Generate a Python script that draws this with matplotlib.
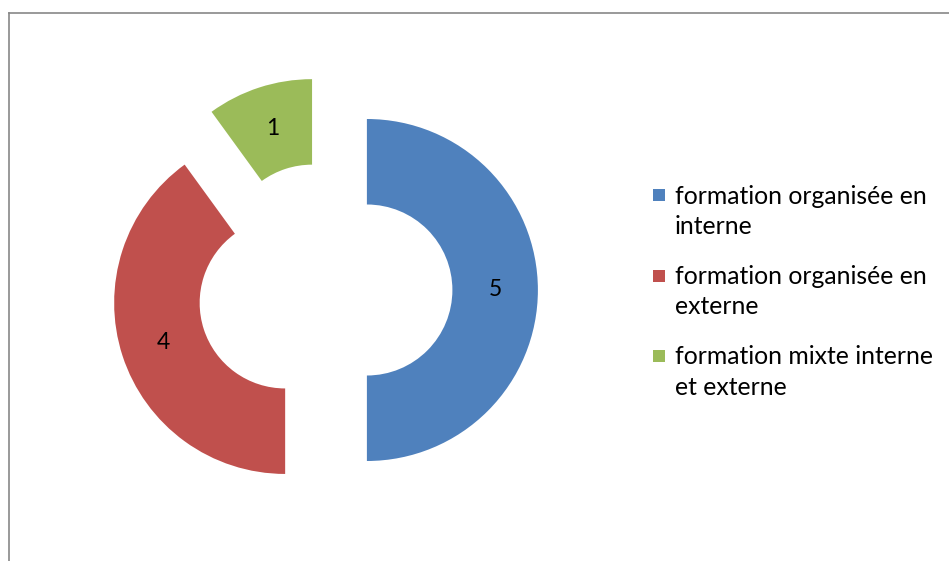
import matplotlib
matplotlib.use("Agg")
import matplotlib.pyplot as plt
from matplotlib.lines import Line2D
from matplotlib.patches import Rectangle

# Training organisation breakdown
labels = ["formation organisée en\ninterne",
          "formation organisée en\nexterne",
          "formation mixte interne\net externe"]
values = [5, 4, 1]
colors = ["#4F81BD", "#C0504D", "#9BBB59"]

plt.rcParams["font.family"] = ["Lato", "DejaVu Sans"]

W, H = 949, 561
fig = plt.figure(figsize=(W / 100, H / 100), dpi=100)
ax = fig.add_axes([0, 0, 1, 1])

total = sum(values)
ax.pie(values, colors=colors, startangle=90, counterclock=False,
       explode=[0.245] * len(values), radius=1.0,
       wedgeprops=dict(width=0.5, linewidth=0),
       autopct=lambda p: f"{round(p * total / 100)}", pctdistance=0.75,
       textprops=dict(fontsize=16.5, color="black"))

# 1 data unit = 171 px, donut centre at (325, 290) px
scale = 171.0
cx, cy = 325, 290
ax.set_xlim(-cx / scale, (W - cx) / scale)
ax.set_ylim(-(H - cy) / scale, cy / scale)
ax.set_aspect("auto")
ax.axis("off")

# chart area border (top and left edges)
border = "#878787"
fig.add_artist(Line2D([8.5 / W, 1], [1 - 12.5 / H, 1 - 12.5 / H],
                      transform=fig.transFigure, color=border, lw=1.2))
fig.add_artist(Line2D([8.5 / W, 8.5 / W], [0, 1 - 12.5 / H],
                      transform=fig.transFigure, color=border, lw=1.2))

# legend: square swatch beside the first line of each entry
y0, item_step, line_step = 196, 80.5, 30.5
for i, (lab, col) in enumerate(zip(labels, colors)):
    yc = y0 + i * item_step
    fig.add_artist(Rectangle((653 / W, 1 - (yc + 5) / H), 12 / W, 12 / H,
                             transform=fig.transFigure, color=col, lw=0))
    for j, line in enumerate(lab.split("\n")):
        fig.text(675 / W, 1 - (yc + j * line_step) / H, line,
                 fontsize=17.8, va="center", ha="left", color="black")

fig.savefig("out.png", dpi=100)
